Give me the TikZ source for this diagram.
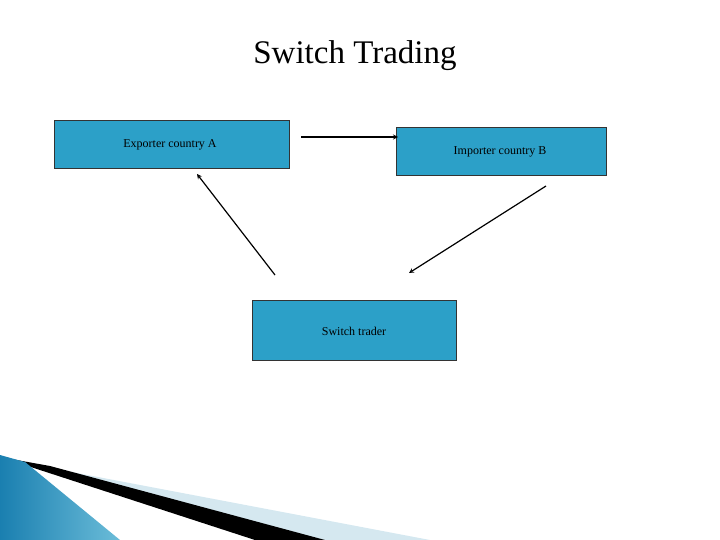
\documentclass[tikz,border=0pt]{standalone}
\usepackage{fontspec}
\setmainfont{Liberation Serif}
\definecolor{boxfill}{HTML}{2CA0C8}
\definecolor{lightb}{HTML}{D5E8F0}
\definecolor{deepb}{HTML}{1A7FB0}
\begin{document}
\begin{tikzpicture}[x=1pt,y=-1pt,
  bx/.style={draw=black!80,fill=boxfill,inner sep=0pt,font=\fontsize{11}{13}\selectfont},
  arr/.style={-stealth,line width=1.2pt}]
\useasboundingbox (0,0) rectangle (720,540);
\node (title) at (355,56) {\fontsize{33}{38}\selectfont Switch Trading};
\node[bx,minimum width=235pt,minimum height=48pt] (A) at (171.5,144) {};
\node at (170,145) {\fontsize{12}{14}\selectfont Exporter country A};
\node[bx,minimum width=210pt,minimum height=48pt] (B) at (501,151) {};
\node at (500,152) {\fontsize{12}{14}\selectfont Importer country B};
\node[bx,minimum width=204pt,minimum height=60pt] (S) at (354,330) {};
\node at (354,331) {\fontsize{12}{14}\selectfont Switch trader};
\coordinate (a1) at (301,137); \coordinate (a2) at (398,137);
\coordinate (b1) at (275,275); \coordinate (b2) at (197,174);
\coordinate (c1) at (546,186); \coordinate (c2) at (409,273);
\draw[arr] (a1) -- (a2);
\draw[arr] (b1) -- (b2);
\draw[arr] (c1) -- (c2);
% decoration
\fill[lightb] (40,466) -- (430,540) -- (300,540) -- cycle;
\fill[black] (0,457) -- (50,466) -- (325,540) -- (255,540) -- cycle;
\shade[left color=deepb,right color=boxfill!70] (0,455) -- (25,462) -- (120,540) -- (0,540) -- cycle;
\end{tikzpicture}
\end{document}
